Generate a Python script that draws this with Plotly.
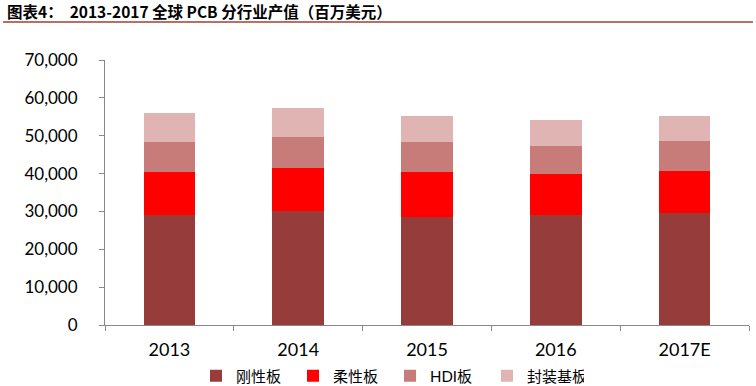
import plotly.graph_objects as go

years = ["2013", "2014", "2015", "2016", "2017E"]
rigid = [29000, 30000, 28400, 29000, 29500]
flex = [11300, 11400, 11900, 10800, 11300]
hdi = [8000, 8300, 8000, 7600, 7800]
substrate = [7600, 7600, 6900, 6700, 6600]

names = ["刚性板", "柔性板", "HDI板", "封装基板"]
colors = ["#963C3A", "#FF0000", "#C87C7A", "#E0B4B3"]
series = [rigid, flex, hdi, substrate]

fig = go.Figure()
for n, c, s in zip(names, colors, series):
    fig.add_trace(go.Bar(x=years, y=s, name=n, marker=dict(color=c, line=dict(width=0))))

W, H = 756, 386
ml, mr, mt, mb = 105, 7, 60, 61
pw = W - ml - mr
ph = H - mt - mb

fig.update_layout(
    width=W, height=H,
    barmode="stack", bargap=0.6,
    margin=dict(l=ml, r=mr, t=mt, b=mb, autoexpand=False),
    plot_bgcolor="white", paper_bgcolor="white",
    font=dict(family="Lato, Noto Sans CJK SC, sans-serif", color="#000000", size=16),
    legend=dict(orientation="h", x=(390 - ml) / pw, xanchor="center", yref="container",
                y=(H - 376) / H, yanchor="middle",
                font=dict(size=15, family="Lato, Noto Sans CJK SC, sans-serif"),
                itemwidth=30, entrywidth=52, entrywidthmode="pixels", traceorder="normal"),
    xaxis=dict(showline=True, linecolor="#888888", linewidth=1, ticks="outside", ticklen=5,
               tickcolor="#888888", tickson="boundaries", showgrid=False, automargin=False,
               ticklabelstandoff=8, tickfont=dict(size=18)),
    yaxis=dict(range=[0, 70000], dtick=10000, tickformat=",", showline=True, linecolor="#888888",
               linewidth=1, ticks="outside", ticklen=5, tickcolor="#888888", showgrid=False,
               automargin=False, ticklabelstandoff=18, tickfont=dict(size=17), zeroline=False),
    shapes=[dict(type="line", xref="paper", yref="paper",
                 x0=(3 - ml) / pw, x1=(753 - ml) / pw,
                 y0=(H - mb - 22) / ph, y1=(H - mb - 22) / ph,
                 line=dict(color="#A0402E", width=1.5))],
    annotations=[dict(text="<b>图表4：  2013-2017 全球 PCB 分行业产值（百万美元）</b>",
                      xref="paper", yref="paper", x=(5 - ml) / pw, y=(H - mb - 11) / ph,
                      xanchor="left", yanchor="middle", showarrow=False,
                      font=dict(size=15.5, family="Noto Sans CJK SC, sans-serif", color="#000000"))],
)

fig.write_html("out.html", config={"displayModeBar": False},
               post_script="document.body.style.margin='0';document.body.style.overflow='hidden';")
